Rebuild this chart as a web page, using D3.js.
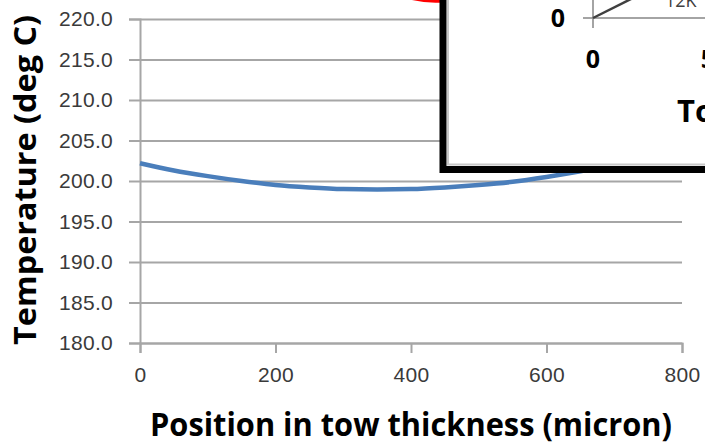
<!DOCTYPE html>
<html>
<head>
<meta charset="utf-8">
<script src="https://cdn.jsdelivr.net/npm/d3@7"></script>
<style>
  body { margin: 0; background: #fff; }
  svg { display: block; font-family: "Open Sans", sans-serif; }
</style>
</head>
<body>
<div class="vis"></div>
<script>
var w = 705;
var h = 442;

// Temperature profile across the tow thickness
var positions = [0, 50, 100, 150, 200, 250, 300, 350, 400, 450, 500, 550, 600, 650, 700, 750, 800];
var temps = [202.2, 201.3, 200.6, 200.0, 199.5, 199.2, 199.0, 198.95, 199.0, 199.2, 199.5, 199.9, 200.5, 201.2, 202.0, 203.0, 204.1];

var xTicks = [0, 200, 400, 600, 800];
var yTicks = [180, 185, 190, 195, 200, 205, 210, 215, 220];

// Inset chart (mostly cropped off at the top right)
var insetXTicks = [0, 5];
var insetYTicks = [0];
var insetLineX = [0, 2];
var insetLineY = [0, 1];
var insetSeriesLabel = "12K";

//Create SVG element
var svg = d3.select(".vis")
    .append("svg")
    .attr("width", w)
    .attr("height", h);

//Set up scales
var x = d3.scaleLinear().domain([0, 800]).range([140, 682]);
var y = d3.scaleLinear().domain([180, 220]).range([343, 19]);

// Gridlines
svg.append("g")
    .attr("transform", "translate(140,0)")
    .call(d3.axisLeft(y).tickValues(yTicks).tickSize(-(682 - 140)).tickFormat(""))
    .call(g => g.select(".domain").remove())
    .call(g => g.selectAll("line").attr("stroke", "#a6a6a6").attr("stroke-width", 2));

// Y axis
var yAxis = svg.append("g")
    .attr("transform", "translate(140,0)")
    .call(d3.axisLeft(y).tickValues(yTicks).tickSize(11).tickPadding(16).tickFormat(d3.format(".1f")));
yAxis.select(".domain").attr("stroke", "#a6a6a6").attr("stroke-width", 2);
yAxis.selectAll("line").attr("stroke", "#a6a6a6").attr("stroke-width", 2);
yAxis.selectAll("text")
    .attr("fill", "#3a3a3a")
    .style("font-size", "21px")
    .style("letter-spacing", "0.3px");

// X axis
var xAxis = svg.append("g")
    .attr("transform", "translate(0,343)")
    .call(d3.axisBottom(x).tickValues(xTicks).tickSize(10).tickPadding(14));
xAxis.select(".domain").attr("stroke", "#a6a6a6").attr("stroke-width", 2);
xAxis.selectAll("line").attr("stroke", "#a6a6a6").attr("stroke-width", 2);
xAxis.selectAll("text")
    .attr("fill", "#3a3a3a")
    .style("font-size", "21px")
    .style("letter-spacing", "0.3px");

// Axis titles
svg.append("text")
    .attr("x", 411)
    .attr("y", 436)
    .attr("text-anchor", "middle")
    .attr("textLength", 522)
    .attr("lengthAdjust", "spacingAndGlyphs")
    .style("font-size", "32px")
    .style("font-weight", "bold")
    .text("Position in tow thickness (micron)");

svg.append("text")
    .attr("transform", "translate(36,180) rotate(-90)")
    .attr("text-anchor", "middle")
    .attr("textLength", 330)
    .attr("lengthAdjust", "spacingAndGlyphs")
    .style("font-size", "31px")
    .style("font-weight", "bold")
    .text("Temperature (deg C)");

// Temperature curve
var line = d3.line()
    .x((d, i) => x(positions[i]))
    .y(d => y(d))
    .curve(d3.curveMonotoneX);

svg.append("path")
    .datum(temps)
    .attr("d", line)
    .attr("fill", "none")
    .attr("stroke", "#4a7ebb")
    .attr("stroke-width", 4.5);

// Red arrow piece coming in from above the inset
var arc = d3.path();
arc.moveTo(410, -2);
arc.quadraticCurveTo(426, 2, 442, 1);
svg.append("path")
    .attr("d", arc.toString())
    .attr("fill", "none")
    .attr("stroke", "#ff0000")
    .attr("stroke-width", 3);

// Inset box
var inset = svg.append("g");
inset.append("rect")
    .attr("x", 443).attr("y", -20)
    .attr("width", 300).attr("height", 189.5)
    .attr("fill", "#fff")
    .attr("stroke", "#000")
    .attr("stroke-width", 7);
inset.append("path")
    .attr("d", "M448,-20V164.5H760")
    .attr("fill", "none")
    .attr("stroke", "#c8c8c8")
    .attr("stroke-width", 2);

var ix = d3.scaleLinear().domain([0, 5]).range([593, 708]);
var iy = d3.scaleLinear().domain([0, 5]).range([18, -97]);

// inset axes
inset.append("line")
    .attr("x1", ix(0) - 10).attr("x2", 710)
    .attr("y1", iy(0)).attr("y2", iy(0))
    .attr("stroke", "#868686").attr("stroke-width", 1.5);
inset.append("line")
    .attr("x1", ix(0)).attr("x2", ix(0))
    .attr("y1", -5).attr("y2", iy(0) + 10)
    .attr("stroke", "#868686").attr("stroke-width", 1.5);

inset.selectAll(".ixlab")
    .data(insetXTicks)
    .enter()
    .append("text")
    .attr("class", "ixlab")
    .attr("x", d => ix(d))
    .attr("y", 68)
    .attr("text-anchor", "middle")
    .style("font-size", "25px")
    .style("font-weight", "bold")
    .text(d => d);

inset.selectAll(".iylab")
    .data(insetYTicks)
    .enter()
    .append("text")
    .attr("class", "iylab")
    .attr("x", 565)
    .attr("y", d => iy(d) + 9)
    .attr("text-anchor", "end")
    .style("font-size", "25px")
    .style("font-weight", "bold")
    .text(d => d);

var insetLine = d3.line()
    .x((d, i) => ix(d))
    .y((d, i) => iy(insetLineY[i]));
inset.append("path")
    .datum(insetLineX)
    .attr("d", insetLine)
    .attr("fill", "none")
    .attr("stroke", "#404040")
    .attr("stroke-width", 2.5);

inset.append("text")
    .attr("x", 665)
    .attr("y", 7)
    .attr("fill", "#404040")
    .style("font-size", "18px")
    .text(insetSeriesLabel);

inset.append("text")
    .attr("x", 677)
    .attr("y", 122)
    .style("font-size", "31px")
    .style("font-weight", "bold")
    .text("Tow");
</script>
</body>
</html>
